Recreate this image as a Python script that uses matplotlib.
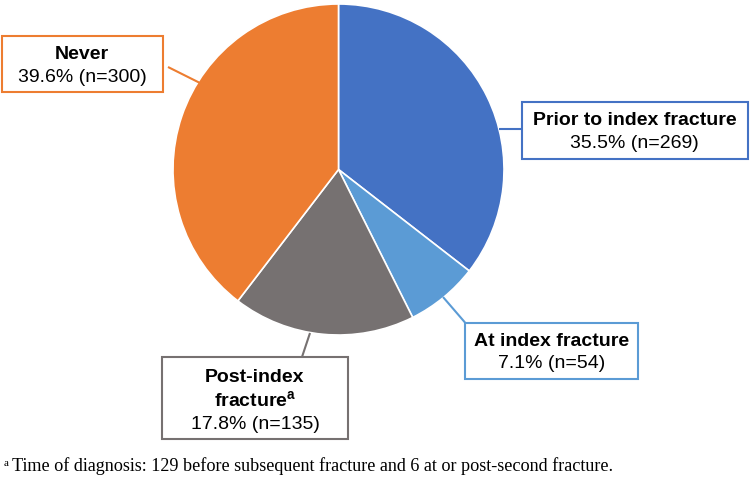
import matplotlib
matplotlib.use("Agg")
import matplotlib.pyplot as plt
from matplotlib.patches import Rectangle

# Data
labels = ["Prior to index fracture", "At index fracture", "Post-index\nfracture", "Never"]
percents = [35.5, 7.1, 17.8, 39.6]
counts = [269, 54, 135, 300]
colors = ["#4472C4", "#5B9BD5", "#767171", "#ED7D31"]
footnote = "Time of diagnosis: 129 before subsequent fracture and 6 at or post-second fracture."

W, H = 752, 482
plt.rcParams["font.family"] = ["Liberation Sans", "DejaVu Sans"]
plt.rcParams["mathtext.fontset"] = "custom"
plt.rcParams["mathtext.bf"] = "Liberation Sans:bold"
plt.rcParams["mathtext.rm"] = "Liberation Sans"

fig = plt.figure(figsize=(W / 100, H / 100), dpi=100)
ax = fig.add_axes([0, 0, 1, 1])


def Y(y):
    # image pixel row -> data y
    return H - y


ax.pie(percents, colors=colors, startangle=90, counterclock=False,
       center=(338.5, Y(169.5)), radius=165.5,
       wedgeprops=dict(edgecolor="white", linewidth=1.2), frame=True)
ax.set_xlim(0, W)
ax.set_ylim(0, H)
ax.set_aspect("equal")
ax.axis("off")

# label boxes: (x0, y0, x1, y1) in image pixels, edge colour, connector points
boxes = [
    ((521.5, 102, 748, 158.5), colors[0], [(499, 129), (521.5, 129)]),
    ((465, 322.5, 638, 378.5), colors[1], [(443, 297), (465, 322.5)]),
    ((162, 357, 348, 439), colors[2], [(310, 333), (302, 357)]),
    ((2, 36, 162.5, 92), colors[3], [(168, 67), (200, 83)]),
]

fs = 14
for i, ((x0, y0, x1, y1), ec, line) in enumerate(boxes):
    ax.add_patch(Rectangle((x0, Y(y1)), x1 - x0, y1 - y0, facecolor="white",
                           edgecolor=ec, linewidth=1.5, zorder=3))
    ax.plot([p[0] for p in line], [Y(p[1]) for p in line], color=ec,
            linewidth=1.5, zorder=2, solid_capstyle="butt")
    cx = (x0 + x1) / 2
    value = f"{percents[i]}% (n={counts[i]})"
    if i == 2:
        ax.text(cx, Y(377.5), "Post-index", ha="center", va="center",
                fontsize=fs, fontweight="bold", zorder=4)
        ax.text(cx, Y(400.5), r"fracture$^{\mathbf{a}}$", ha="center", va="center",
                fontsize=fs, fontweight="bold", zorder=4)
        ax.text(cx, Y(424.5), value, ha="center", va="center", fontsize=fs, zorder=4)
    else:
        ym = (y0 + y1) / 2 + 2
        ax.text(cx, Y(ym - 11.5), labels[i], ha="center", va="center",
                fontsize=fs, fontweight="bold", zorder=4)
        ax.text(cx, Y(ym + 11.5), value, ha="center", va="center",
                fontsize=fs, zorder=4)

# footnote
ax.text(4, Y(463), "a", fontsize=8, family="Liberation Serif", ha="left", va="center")
ax.text(12.5, Y(471), footnote, fontsize=13.1, family="Liberation Serif",
        ha="left", va="baseline")

fig.savefig("out.png", dpi=100)
